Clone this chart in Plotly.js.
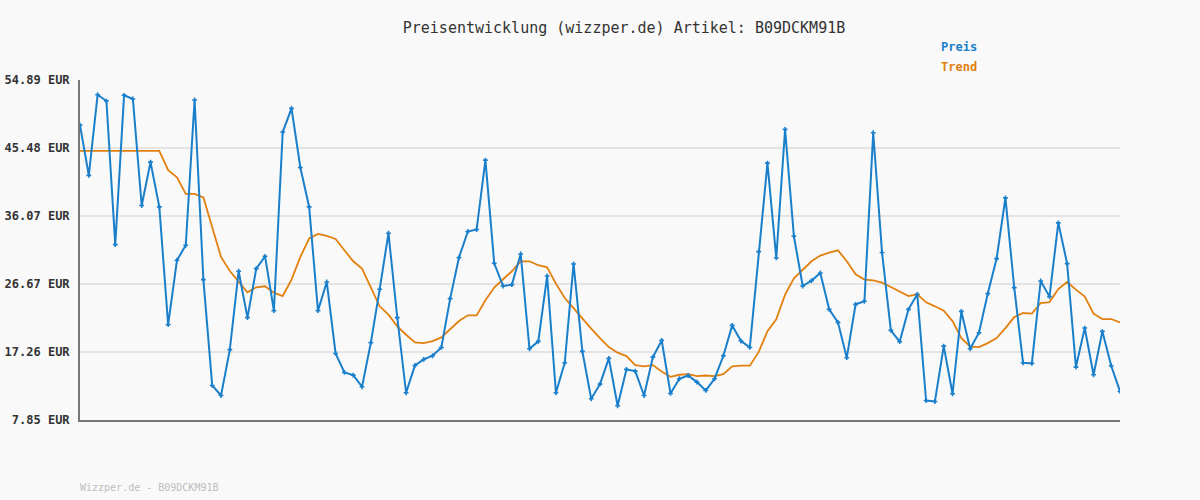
<!DOCTYPE html>
<html>
<head>
<meta charset="utf-8">
<script src="https://cdn.plot.ly/plotly-3.0.1.min.js"></script>
<style>
html,body{margin:0;padding:0;background:#f9f9f9;}
#chart{width:1200px;height:500px;}
</style>
</head>
<body>
<div id="chart"></div>
<script>
const titleText = "Preisentwicklung (wizzper.de) Artikel: B09DCKM91B";
const footerText = "Wizzper.de - B09DCKM91B";
const seriesNames = ["Preis", "Trend"];
const tickValues = [7.85, 17.26, 26.67, 36.07, 45.48, 54.89];
const tickLabels = ["7.85 EUR", "17.26 EUR", "26.67 EUR", "36.07 EUR", "45.48 EUR", "54.89 EUR"];

const preis = [
  48.65, 41.69, 52.85, 51.98, 32.12, 52.77, 52.26, 37.53, 43.53, 37.33,
  21.04, 29.95, 32.03, 52.12, 27.27, 12.63, 11.24, 17.58, 28.43, 22.01,
  28.80, 30.50, 22.98, 47.69, 50.97, 42.79, 37.33, 22.98, 26.94, 17.06,
  14.43, 14.06, 12.45, 18.55, 25.93, 33.69, 22.01, 11.62, 15.40, 16.23,
  16.74, 17.89, 24.64, 30.32, 33.93, 34.20, 43.81, 29.53, 26.39, 26.58,
  30.82, 17.71, 18.73, 27.77, 11.62, 15.77, 29.44, 17.34, 10.79, 12.81,
  16.37, 9.82, 14.85, 14.61, 11.24, 16.55, 18.86, 11.52, 13.56, 14.01,
  13.09, 11.94, 13.56, 16.74, 20.94, 18.77, 17.89, 31.15, 43.39, 30.27,
  48.06, 33.27, 26.39, 27.14, 28.19, 23.16, 21.36, 16.47, 23.85, 24.27,
  47.59, 31.02, 20.25, 18.68, 23.16, 25.24, 10.55, 10.41, 18.07, 11.48,
  22.88, 17.71, 19.93, 25.34, 30.18, 38.58, 26.17, 15.77, 15.68, 27.08,
  24.92, 35.12, 29.49, 15.17, 20.57, 14.11, 20.11, 15.36, 11.80
];

const trend = [
  45.09, 45.09, 45.09, 45.09, 45.09, 45.09, 45.09, 45.09, 45.09, 45.09,
  42.42, 41.41, 39.14, 39.14, 38.64, 34.56, 30.41, 28.47, 26.94, 25.52,
  26.21, 26.35, 25.47, 25.00, 27.27, 30.41, 32.96, 33.59, 33.32, 32.90,
  31.33, 29.81, 28.80, 26.25, 23.58, 22.43, 20.80, 19.65, 18.59, 18.49,
  18.77, 19.28, 20.35, 21.54, 22.33, 22.33, 24.41, 26.17, 27.32, 28.43,
  29.81, 29.81, 29.26, 28.98, 26.72, 24.73, 23.34, 21.87, 20.49, 19.18,
  17.94, 17.16, 16.69, 15.44, 15.26, 15.44, 14.57, 13.83, 14.11, 14.19,
  13.92, 14.01, 13.92, 14.19, 15.26, 15.36, 15.36, 17.24, 20.15, 21.77,
  25.20, 27.46, 28.70, 29.81, 30.60, 31.02, 31.33, 29.81, 28.01, 27.27,
  27.18, 26.86, 26.25, 25.58, 25.00, 25.24, 24.13, 23.58, 22.98, 21.54,
  19.18, 17.99, 17.94, 18.49, 19.18, 20.57, 22.09, 22.65, 22.56, 24.03,
  24.17, 25.97, 26.94, 25.89, 24.92, 22.56, 21.82, 21.82, 21.36
];

const xIdx = preis.map((_, i) => i);
const blue = "#1a7fcb";
const orange = "#e2800f";
const mono = "'DejaVu Sans Mono', 'Liberation Mono', monospace";

const traces = [
  {
    x: xIdx, y: trend, type: "scatter", mode: "lines", name: seriesNames[1],
    line: {color: orange, width: 1.8}, hoverinfo: "skip"
  },
  {
    x: xIdx, y: preis, type: "scatter", mode: "lines+markers", name: seriesNames[0],
    line: {color: blue, width: 2},
    marker: {symbol: "cross", size: 4, color: blue}
  }
];

const layout = {
  width: 1200, height: 500,
  paper_bgcolor: "#f9f9f9", plot_bgcolor: "#f9f9f9",
  margin: {l: 80, r: 80, t: 80, b: 80},
  showlegend: false,
  title: {text: titleText, x: 0.52, xanchor: "center", y: 0.945, yanchor: "middle",
          font: {family: mono, size: 15, color: "#333"}},
  xaxis: {
    range: [0, xIdx.length - 1], showgrid: false, zeroline: false,
    showticklabels: false, ticks: "",
    showline: true, linecolor: "#777", linewidth: 2
  },
  yaxis: {
    range: [7.85, 54.89], tickmode: "array", tickvals: tickValues, ticktext: tickLabels,
    showgrid: true, gridcolor: "#e4e4e4", gridwidth: 2, zeroline: false,
    showline: true, linecolor: "#777", linewidth: 2, ticks: "",
    ticklabelstandoff: 6,
    tickfont: {family: mono, size: 12, color: "#333", weight: "bold"}
  },
  annotations: [
    {text: "<b>" + seriesNames[0] + "</b>", xref: "paper", yref: "paper", x: (939 - 80) / 1040, y: (500 - 47 - 80) / 340,
     xanchor: "left", yanchor: "middle", showarrow: false, font: {family: mono, size: 12, color: blue}},
    {text: "<b>" + seriesNames[1] + "</b>", xref: "paper", yref: "paper", x: (939 - 80) / 1040, y: (500 - 67 - 80) / 340,
     xanchor: "left", yanchor: "middle", showarrow: false, font: {family: mono, size: 12, color: orange}},
    {text: footerText, xref: "paper", yref: "paper", x: -0.002, y: (500 - 487 - 80) / 340,
     xanchor: "left", yanchor: "middle", showarrow: false, font: {family: mono, size: 10, color: "#bdbdbd"}}
  ]
};

Plotly.newPlot("chart", traces, layout, {staticPlot: true});
</script>
</body>
</html>
